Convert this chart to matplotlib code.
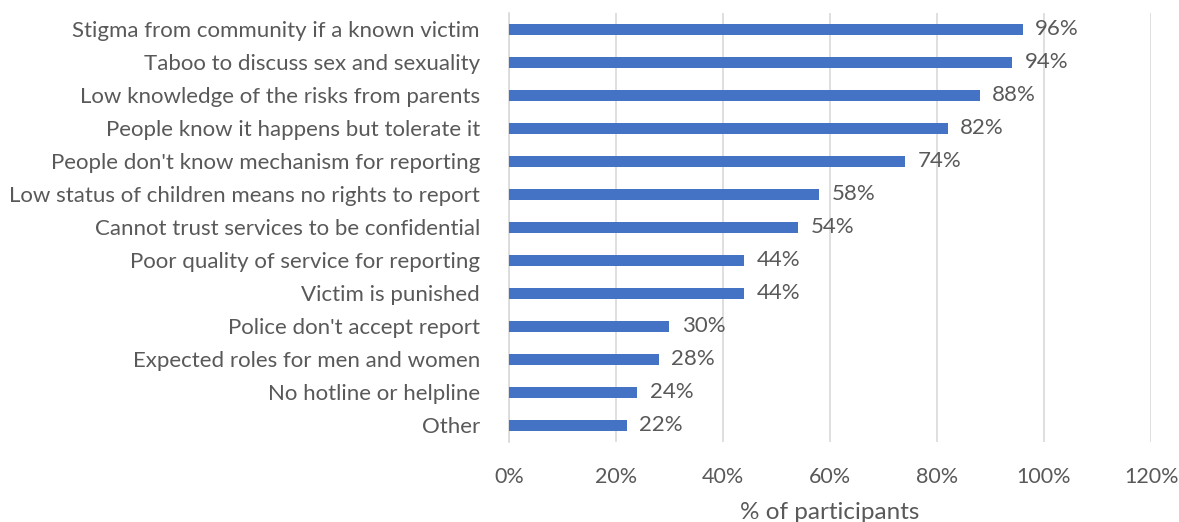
import matplotlib.pyplot as plt
from matplotlib.ticker import PercentFormatter

# barriers to reporting, top to bottom as in the chart
labels = [
    "Stigma from community if a known victim",
    "Taboo to discuss sex and sexuality",
    "Low knowledge of the risks from parents",
    "People know it happens but tolerate it",
    "People don't know mechanism for reporting",
    "Low status of children means no rights to report",
    "Cannot trust services to be confidential",
    "Poor quality of service for reporting",
    "Victim is punished",
    "Police don't accept report",
    "Expected roles for men and women",
    "No hotline or helpline",
    "Other",
]
values = [96, 94, 88, 82, 74, 58, 54, 44, 44, 30, 28, 24, 22]
xticks = [0, 20, 40, 60, 80, 100, 120]

plt.rcParams['font.family'] = ['Lato', 'DejaVu Sans']
text_col = "#595959"

fig = plt.figure(figsize=(11.79, 5.22), dpi=100)
ax = fig.add_axes([0.4317, 0.1533, 0.5446, 0.8218])

y = list(range(len(labels)))
bars = ax.barh(y, values, height=0.35, color="#4472C4", zorder=3)
ax.set_ylim(12.5, -0.5)
ax.set_xlim(0, 120)

for b, v in zip(bars, values):
    ax.annotate(f"{v}%", (b.get_width(), b.get_y() + b.get_height() / 2),
                xytext=(9, 0), textcoords="offset points",
                va="center", ha="left", fontsize=16, color=text_col)

ax.set_yticks(y)
ax.set_yticklabels(labels, fontsize=16, color=text_col)
ax.set_xticks(xticks)
ax.xaxis.set_major_formatter(PercentFormatter(decimals=0))
ax.tick_params(axis="x", length=0, pad=18, labelsize=15.5, labelcolor=text_col)
ax.tick_params(axis="y", length=0, pad=21)

ax.grid(axis="x", color="#D9D9D9", linewidth=1.2, zorder=0)
for s in ["top", "right", "bottom"]:
    ax.spines[s].set_visible(False)
ax.spines["left"].set_color("#D9D9D9")
ax.spines["left"].set_linewidth(1.2)

ax.set_xlabel("% of participants", fontsize=17.5, color=text_col, labelpad=11)

fig.savefig("out.png", dpi=100)
